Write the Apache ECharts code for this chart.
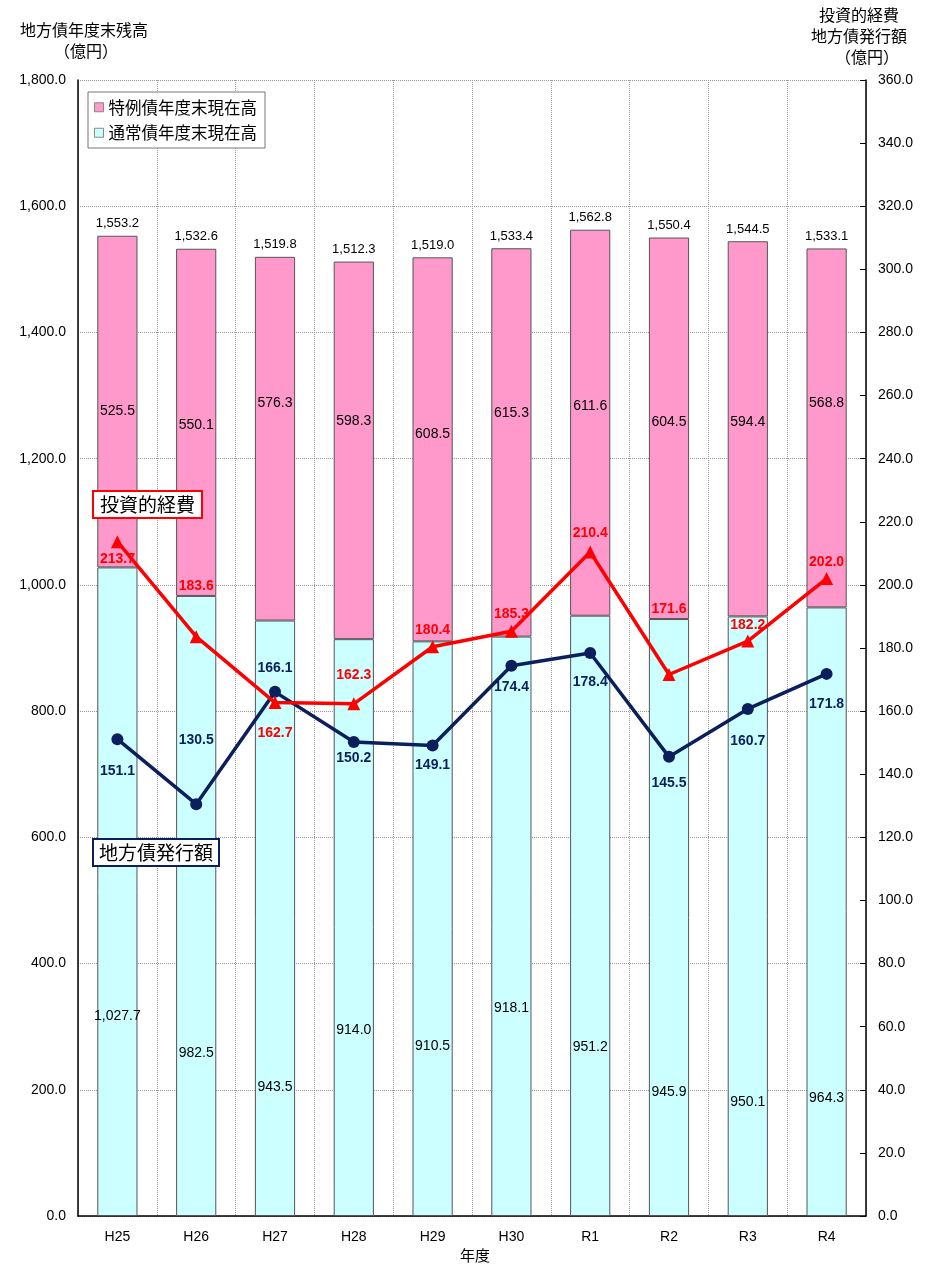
<!DOCTYPE html>
<html>
<head>
<meta charset="utf-8">
<script src="https://cdn.jsdelivr.net/npm/echarts@6/dist/echarts.min.js"></script>
<style>
html,body{margin:0;padding:0;background:#fff;}
#chart{width:934px;height:1269px;}
</style>
</head>
<body>
<div id="chart"></div>
<script>
// ---- data ----
const categories = ['H25','H26','H27','H28','H29','H30','R1','R2','R3','R4'];
const normalBalance = [1027.7, 982.5, 943.5, 914.0, 910.5, 918.1, 951.2, 945.9, 950.1, 964.3];
const specialBalance = [525.5, 550.1, 576.3, 598.3, 608.5, 615.3, 611.6, 604.5, 594.4, 568.8];
const totalBalance = [1553.2, 1532.6, 1519.8, 1512.3, 1519.0, 1533.4, 1562.8, 1550.4, 1544.5, 1533.1];
const investment = [213.7, 183.6, 162.7, 162.3, 180.4, 185.3, 210.4, 171.6, 182.2, 202.0];
const issuance = [151.1, 130.5, 166.1, 150.2, 149.1, 174.4, 178.4, 145.5, 160.7, 171.8];

// ---- label placement (style only) ----
const normalLabelDy = [124, 147, 169, 103, 117, 82, 131, 175, 186, 186];
const specialLabelDy = [10, 3, -36, -29, -15, -29, -17, -6, -7, -25];
const investLabelDy = [17, -50, 31, -29, -17, -17, -19, -65, -16, -16];
const issueLabelDy = [32, -64, -24, 16, 20, 21, 29, 26, 32, 30];

const fmt = v => Number(v).toLocaleString('en-US', {minimumFractionDigits: 1, maximumFractionDigits: 1});
const JP = '"Noto Sans CJK JP", sans-serif';
const NUM = '"Liberation Sans", Arial, sans-serif';

const chart = echarts.init(document.getElementById('chart'), null, {renderer: 'canvas'});

const option = {
  animation: false,
  backgroundColor: '#ffffff',
  grid: {left: 78, right: 68, top: 80, bottom: 53, containLabel: false},
  legend: {
    data: ['特例債年度末現在高', '通常債年度末現在高'],
    orient: 'vertical',
    left: 88, top: 92,
    itemWidth: 9, itemHeight: 9, itemGap: 9,
    icon: 'rect',
    padding: [7, 8, 7, 6],
    backgroundColor: '#ffffff',
    borderColor: '#777777', borderWidth: 1,
    textStyle: {fontFamily: JP, fontSize: 16.5, color: '#000'},
    itemStyle: {borderColor: '#888', borderWidth: 1}
  },
  xAxis: {
    type: 'category',
    data: categories,
    boundaryGap: true,
    axisLine: {show: true, lineStyle: {color: '#000', width: 1.5}},
    axisTick: {show: false},
    axisLabel: {fontFamily: NUM, fontSize: 14, color: '#000', margin: 14},
    splitLine: {show: true, lineStyle: {color: '#999', type: [1, 1], width: 1}}
  },
  yAxis: [
    {
      type: 'value', min: 0, max: 1800, interval: 200,
      position: 'left',
      axisLine: {show: true, lineStyle: {color: '#000', width: 1.5}},
      axisTick: {show: false},
      axisLabel: {fontFamily: NUM, fontSize: 14, color: '#000', margin: 12, formatter: v => fmt(v)},
      splitLine: {show: true, lineStyle: {color: '#999', type: [1, 1], width: 1}}
    },
    {
      type: 'value', min: 0, max: 360, interval: 20,
      position: 'right',
      axisLine: {show: true, lineStyle: {color: '#000', width: 1.5}},
      axisTick: {show: true, inside: true, length: 6, lineStyle: {color: '#000'}},
      axisLabel: {fontFamily: NUM, fontSize: 14, color: '#000', margin: 12, formatter: v => fmt(v)},
      splitLine: {show: false}
    }
  ],
  series: [
    {
      name: '通常債年度末現在高',
      type: 'bar', stack: 'bal', yAxisIndex: 0,
      barWidth: '51%',
      itemStyle: {color: '#CCFFFF', borderColor: '#555', borderWidth: 1},
      label: {show: true, position: 'inside', fontFamily: NUM, fontSize: 14, color: '#000', formatter: p => fmt(p.value)},
      data: normalBalance.map((v, i) => ({value: v, label: {offset: [0, normalLabelDy[i]]}})),
      z: 2
    },
    {
      name: '特例債年度末現在高',
      type: 'bar', stack: 'bal', yAxisIndex: 0,
      barWidth: '51%',
      itemStyle: {color: '#FF99CC', borderColor: '#555', borderWidth: 1},
      label: {show: true, position: 'inside', fontFamily: NUM, fontSize: 14, color: '#000', formatter: p => fmt(p.value)},
      data: specialBalance.map((v, i) => ({value: v, label: {offset: [0, specialLabelDy[i]]}})),
      z: 2
    },
    {
      name: '合計',
      type: 'line', yAxisIndex: 0,
      data: totalBalance,
      symbol: 'circle', symbolSize: 1,
      itemStyle: {color: 'rgba(0,0,0,0)'},
      lineStyle: {opacity: 0},
      silent: true,
      label: {show: true, position: 'top', distance: 5, fontFamily: NUM, fontSize: 13, color: '#000', formatter: p => fmt(p.value)},
      z: 3
    },
    {
      name: '投資的経費',
      type: 'line', yAxisIndex: 1,
      symbol: 'triangle', symbolSize: 13,
      lineStyle: {color: '#FF0000', width: 3.5},
      itemStyle: {color: '#FF0000'},
      label: {show: true, position: 'inside', fontFamily: NUM, fontWeight: 'bold', fontSize: 14, color: '#FF0000', formatter: p => fmt(p.value)},
      data: investment.map((v, i) => ({value: v, label: {offset: [0, investLabelDy[i]]}})),
      z: 5
    },
    {
      name: '地方債発行額',
      type: 'line', yAxisIndex: 1,
      symbol: 'circle', symbolSize: 12,
      lineStyle: {color: '#0A1F5C', width: 3.5},
      itemStyle: {color: '#0A1F5C'},
      label: {show: true, position: 'inside', fontFamily: NUM, fontWeight: 'bold', fontSize: 14, color: '#0A1F5C', formatter: p => fmt(p.value)},
      data: issuance.map((v, i) => ({value: v, label: {offset: [0, issueLabelDy[i]]}})),
      z: 4
    }
  ],
  graphic: [
    {type: 'text', left: 20, top: 22, style: {text: '地方債年度末残高', font: '16px ' + JP, fill: '#000'}},
    {type: 'text', left: 54, top: 43, style: {text: '（億円）', font: '16px ' + JP, fill: '#000'}},
    {type: 'text', right: 35, top: 7, style: {text: '投資的経費', font: '16px ' + JP, fill: '#000'}},
    {type: 'text', right: 27, top: 28, style: {text: '地方債発行額', font: '16px ' + JP, fill: '#000'}},
    {type: 'text', right: 35, top: 49, style: {text: '（億円）', font: '16px ' + JP, fill: '#000'}},
    {type: 'text', left: 460, top: 1248, style: {text: '年度', font: '15px ' + JP, fill: '#000'}},
    {
      type: 'text', left: 92, top: 490, z: 100,
      style: {
        text: '投資的経費', font: '19px ' + JP, fill: '#000',
        backgroundColor: '#fff', borderColor: '#FF0000', borderWidth: 2,
        padding: [3, 6, 3, 6]
      }
    },
    {
      type: 'text', left: 92, top: 838, z: 100,
      style: {
        text: '地方債発行額', font: '19px ' + JP, fill: '#000',
        backgroundColor: '#fff', borderColor: '#0A1F5C', borderWidth: 2,
        padding: [3, 5, 3, 5]
      }
    }
  ]
};
chart.setOption(option);
</script>
</body>
</html>
